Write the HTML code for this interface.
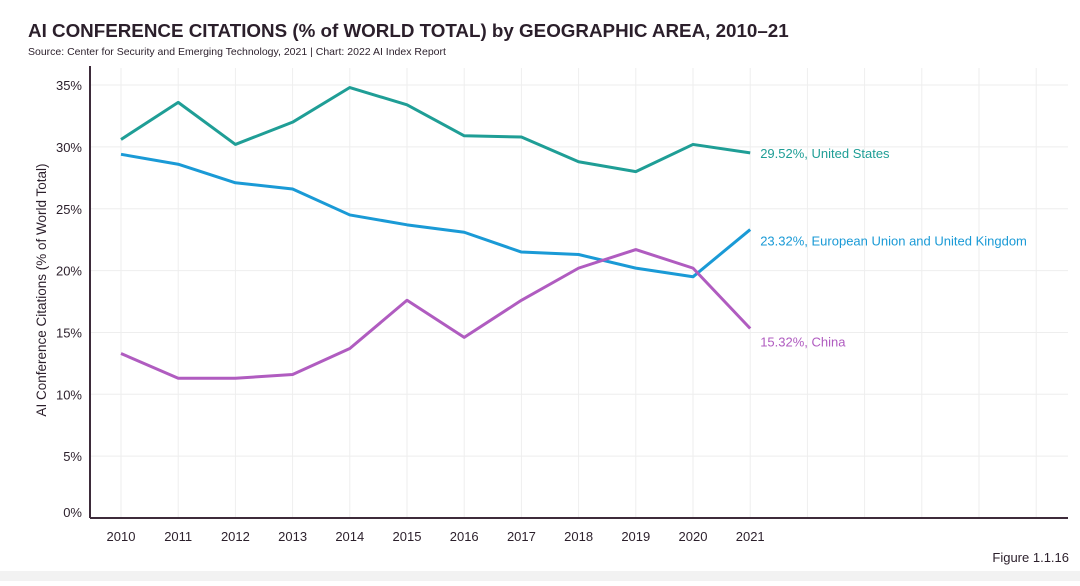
<!DOCTYPE html>
<html><head><meta charset="utf-8"><style>
body{margin:0;background:#fff;width:1080px;height:581px;overflow:hidden;font-family:"Liberation Sans",sans-serif}
</style></head><body>
<svg width="1080" height="581">
<rect x="0" y="571" width="1080" height="10" fill="#f2f2f2"/>
<text x="28" y="37" font-size="18.8" font-weight="bold" fill="#2b1f2b">AI CONFERENCE CITATIONS (% of WORLD TOTAL) by GEOGRAPHIC AREA, 2010–21</text>
<text x="28" y="55" font-size="10.5" fill="#2b1f2b">Source: Center for Security and Emerging Technology, 2021 | Chart: 2022 AI Index Report</text>
<text x="1069" y="562" font-size="13" fill="#2b1f2b" text-anchor="end">Figure 1.1.16</text>
<text transform="translate(46,290) rotate(-90)" font-size="13.5" fill="#2b1f2b" text-anchor="middle">AI Conference Citations (% of World Total)</text>
<g id="grid"></g><g id="axes"></g><g id="lines"></g>
</svg>
<script>
const years=[2010,2011,2012,2013,2014,2015,2016,2017,2018,2019,2020,2021];
const usVals=[30.6,33.6,30.2,32.0,34.8,33.4,30.9,30.8,28.8,28.0,30.2,29.52];
const euVals=[29.4,28.6,27.1,26.6,24.5,23.7,23.1,21.5,21.3,20.2,19.5,23.32];
const cnVals=[13.3,11.3,11.3,11.6,13.7,17.6,14.6,17.6,20.2,21.7,20.2,15.32];
const yTicks=[0,5,10,15,20,25,30,35];
const NS="http://www.w3.org/2000/svg";
const x0=121,dx=57.2,yBase=518,pxPer=12.37;
const X=i=>x0+i*dx, Y=v=>yBase-v*pxPer;
function mk(tag,attrs,parent,text){const e=document.createElementNS(NS,tag);for(const k in attrs)e.setAttribute(k,attrs[k]);if(text!==undefined)e.textContent=text;document.getElementById(parent).appendChild(e);return e;}
for(let i=0;i<17;i++){const g=mk('line',{x1:X(i),x2:X(i),y1:68,y2:yBase,stroke:'#eeeeee','stroke-width':1},'grid');

}
yTicks.forEach(t=>{if(t===0)return;const g=mk('line',{x1:90,x2:1068,y1:Y(t),y2:Y(t),stroke:'#eeeeee','stroke-width':1},'grid');


});
yTicks.forEach(t=>{const l=mk('text',{x:82,y:Y(t)+5-(t===0?6:0),'font-size':13,fill:'#2b1f2b','text-anchor':'end'},'axes',t+'%');

});
years.forEach((yr,i)=>{const l=mk('text',{x:X(i),y:yBase+23,'font-size':13,fill:'#2b1f2b','text-anchor':'middle'},'axes',yr);

});
let a=mk('line',{x1:90,x2:90,y1:66,y2:yBase,stroke:'#3d2b3a','stroke-width':2},'axes');


a=mk('line',{x1:90,x2:1068,y1:yBase,y2:yBase,stroke:'#3d2b3a','stroke-width':2},'axes');


const series=[[usVals,'#1f9e96','United States','us',0],[euVals,'#1a9ad6','European Union and United Kingdom','eu',11],[cnVals,'#b05cc0','China','china',13]];
series.forEach(([vals,c,name,key,dy])=>{
 const p=mk('polyline',{points:vals.map((v,i)=>X(i)+','+Y(v)).join(' '),fill:'none',stroke:c,'stroke-width':3,'stroke-linejoin':'round'},'lines');
 
 
 const last=vals[vals.length-1];
 const t=mk('text',{x:X(vals.length-1)+10,y:Y(last)+dy+5,'font-size':13,fill:c},'lines',last.toFixed(2)+'%, '+name);
 
 
});
</script>
</body></html>
